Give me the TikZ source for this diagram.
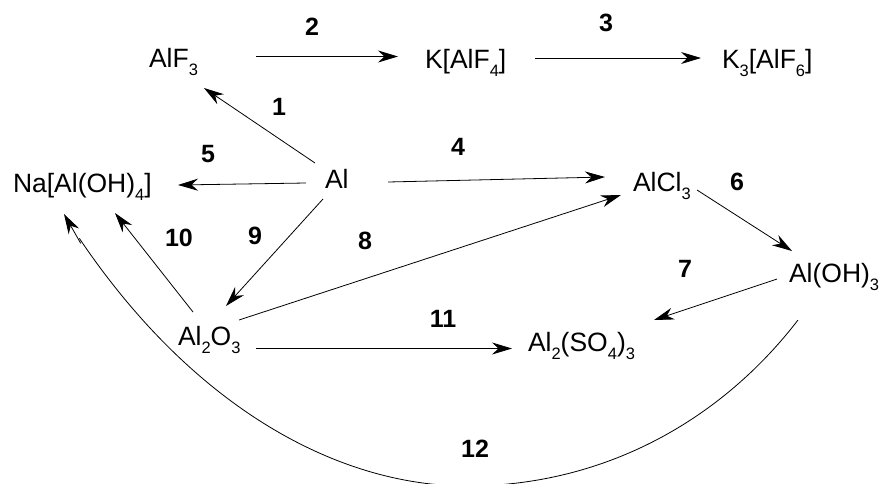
\documentclass[tikz,border=0pt]{standalone}
\usepackage{fontspec}
\setmainfont{Liberation Sans}
\usetikzlibrary{arrows.meta}
\newcommand{\chemlow}[1]{\raisebox{-8.5pt}{\fontsize{16.5}{18}\selectfont #1}}
\tikzset{
  chem/.style={anchor=base west,inner sep=0pt,outer sep=0pt,font=\fontsize{26.5}{30}\selectfont},
  numlabel/.style={anchor=center,inner sep=0pt,font=\fontsize{25}{28}\selectfont\bfseries},
  conn/.style={line width=0.8pt,black},
  head/.style={-{Stealth[length=20pt,width=12pt,inset=6.5pt]}}
}
\begin{document}
\begin{tikzpicture}[x=1pt,y=-1pt]
\useasboundingbox (0,0) rectangle (881,483);
\clip (0,0) rectangle (881,483);
\node[chem] (alf) at (149,67) {AlF\chemlow{3}};
\node[chem] (kal) at (425,68) {K[AlF\chemlow{4}]};
\node[chem] (kthree) at (722,68) {K\chemlow{3}[AlF\chemlow{6}]};
\node[chem] (al) at (325,188) {Al};
\node[chem] (na) at (13,192) {Na[Al(OH)\chemlow{4}]};
\node[chem] (alcl) at (633,191) {AlCl\chemlow{3}};
\node[chem] (aloh) at (789,282) {Al(OH)\chemlow{3}};
\node[chem] (also) at (528,351) {Al\chemlow{2}(SO\chemlow{4})\chemlow{3}};
\node[chem] (aloo) at (178,345) {Al\chemlow{2}O\chemlow{3}};
\node[numlabel] (n1) at (279,107) {1};
\node[numlabel] (n2) at (312,27) {2};
\node[numlabel] (n3) at (606,23) {3};
\node[numlabel] (n4) at (458,147) {4};
\node[numlabel] (n5) at (208,154) {5};
\node[numlabel] (n6) at (737,182) {6};
\node[numlabel] (n7) at (685,269) {7};
\node[numlabel] (n8) at (365,241) {8};
\node[numlabel] (n9) at (255,236) {9};
\node[numlabel] (n10) at (179,238) {10};
\node[numlabel] (n11) at (443,319) {11};
\node[numlabel] (n12) at (475,449) {12};
\draw[conn,head] ([shift={(-10,-25)}]al.base west) -- ([shift={(55,21)}]alf.base west);
\draw[conn,head] ([shift={(107,-10.5)}]alf.base west) -- ([shift={(-27,-11.5)}]kal.base west);
\draw[conn,head] ([shift={(110,-10)}]kal.base west) -- ([shift={(-21,-10)}]kthree.base west);
\draw[conn,head] ([shift={(63,-6)}]al.base west) -- ([shift={(-28,-14)}]alcl.base west);
\draw[conn,head] ([shift={(-19,-5)}]al.base west) -- ([shift={(165,-7)}]na.base west);
\draw[conn,head] ([shift={(64,-1)}]alcl.base west) -- ([shift={(3,-31)}]aloh.base west);
\draw[conn,head] ([shift={(-12,-3)}]aloh.base west) -- ([shift={(126,-31)}]also.base west);
\draw[conn,head] ([shift={(61,-25)}]aloo.base west) -- ([shift={(-12,4)}]alcl.base west);
\draw[conn,head] ([shift={(-2,11)}]al.base west) -- ([shift={(48,-39)}]aloo.base west);
\draw[conn,head] ([shift={(15,-33)}]aloo.base west) -- ([shift={(102,21)}]na.base west);
\draw[conn,head] ([shift={(78,3.5)}]aloo.base west) -- ([shift={(-16,-2.5)}]also.base west);
\draw[conn] ([shift={(9,38)}]aloh.base west) .. controls (718,424) and (600,486) .. (467,486) .. controls (340,486) and (195,410) .. ([shift={(66.3,46.3)}]na.base west);
\draw[conn,head] ([shift={(67.7,51.3)}]na.base west) -- ([shift={(51,22)}]na.base west);
\end{tikzpicture}
\end{document}
